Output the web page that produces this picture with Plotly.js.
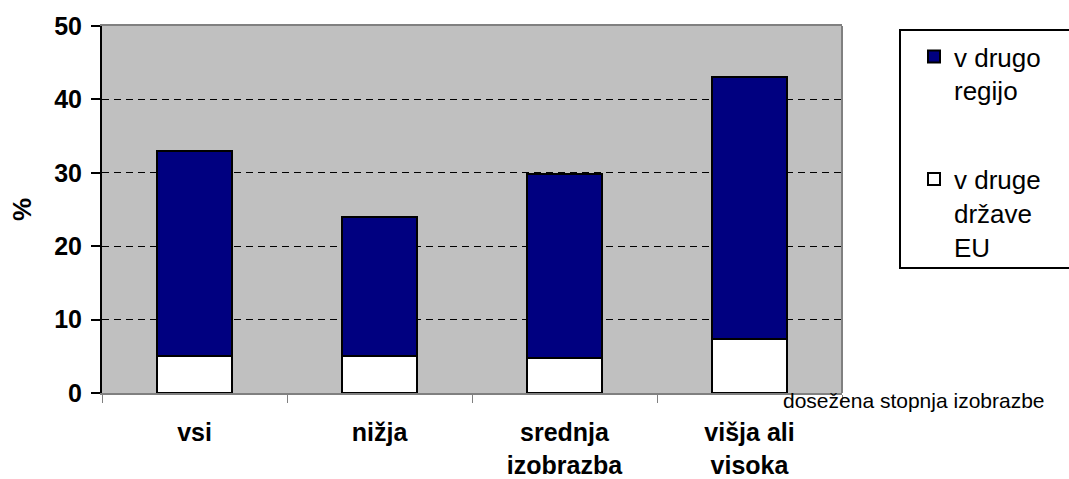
<!DOCTYPE html>
<html>
<head>
<meta charset="utf-8">
<script src="https://cdn.plot.ly/plotly-3.0.1.min.js"></script>
<style>html,body{margin:0;padding:0;background:#fff;}#chart{width:1069px;height:479px;}</style>
</head>
<body>
<div id="chart"></div>
<script>
var categories = ['vsi', 'nižja', 'srednja<br>izobrazba', 'višja ali<br>visoka'];
var drugeDrzaveEU = [5, 5, 4.8, 7.4];
var drugoRegijo = [28, 19, 25.1, 35.6];
var seriesNames = ['v druge<br>države<br>EU', 'v drugo<br>regijo'];
var yTicks = [0, 10, 20, 30, 40, 50];
var xTitle = 'dosežena stopnja izobrazbe';
var yTitle = '%';

var FONT = 'Liberation Sans, Arial, sans-serif';

var traces = [
  {
    type: 'bar', x: categories, y: drugeDrzaveEU, name: seriesNames[0],
    legendgroup: 'b', legendrank: 2,
    marker: {color: '#ffffff', line: {color: '#000000', width: 2}}
  },
  {
    type: 'bar', x: categories, y: drugoRegijo, name: seriesNames[1],
    legendgroup: 'a', legendrank: 1,
    marker: {color: '#000080', line: {color: '#000000', width: 2}}
  }
];

// legend frame (px in container), converted to paper fractions of the plot area
var L = 102, T = 26, W = 740, H = 367;
var lgLeft = 900, lgRight = 1080, lgTop = 30, lgBottom = 268;

var layout = {
  width: 1069, height: 479,
  margin: {l: L, r: 1069 - L - W, t: T, b: 479 - T - H, pad: 0},
  paper_bgcolor: '#ffffff',
  plot_bgcolor: '#c0c0c0',
  barmode: 'stack',
  bargap: 0.595,
  font: {family: FONT, color: '#000000'},
  showlegend: true,
  legend: {
    xref: 'container', yref: 'container',
    x: 914/1069, y: 1 - 33/479, xanchor: 'left', yanchor: 'top',
    bgcolor: 'rgba(0,0,0,0)', borderwidth: 0,
    font: {family: FONT, size: 26, color: '#000000'},
    traceorder: 'grouped',
    tracegroupgap: 52,
    valign: 'top'
  },
  xaxis: {
    type: 'category',
    tickson: 'boundaries',
    ticks: 'outside', ticklen: 8, tickwidth: 1, tickcolor: '#808080',
    showline: true, linecolor: '#808080', linewidth: 2, mirror: true,
    showgrid: false, zeroline: false,
    ticklabelstandoff: 16,
    tickfont: {family: FONT, size: 25, weight: 'bold', color: '#000000'},
    fixedrange: true
  },
  yaxis: {
    range: [0, 50],
    tickmode: 'array', tickvals: yTicks, ticktext: yTicks.map(String),
    ticks: 'outside', ticklen: 9, tickwidth: 2, tickcolor: '#000000',
    showline: true, linecolor: '#000000', linewidth: 2,
    showgrid: true, gridcolor: '#000000', gridwidth: 1, griddash: '7px,5px',
    zeroline: false,
    ticklabelstandoff: 4,
    tickfont: {family: FONT, size: 25, weight: 'bold', color: '#000000'},
    title: {text: yTitle, font: {family: FONT, size: 26, weight: 'bold', color: '#000000'}, standoff: 15},
    fixedrange: true
  },
  shapes: [
    {type: 'line', xref: 'paper', yref: 'paper', x0: 1, x1: 1, y0: 0, y1: 1,
     line: {color: '#808080', width: 2}, layer: 'above'},
    {type: 'rect', xref: 'paper', yref: 'paper',
     x0: (lgLeft - L)/W, x1: (lgRight - L)/W,
     y0: (T + H - lgBottom)/H, y1: (T + H - lgTop)/H,
     line: {color: '#000000', width: 2}, fillcolor: '#ffffff', layer: 'below'}
  ],
  annotations: [
    {text: xTitle, xref: 'paper', yref: 'paper', x: (781-L)/W, y: -7/H,
     xanchor: 'left', yanchor: 'middle', showarrow: false,
     font: {family: FONT, size: 21, color: '#000000'}}
  ]
};

Plotly.newPlot('chart', traces, layout, {displayModeBar: false, staticPlot: true});
</script>
</body>
</html>
